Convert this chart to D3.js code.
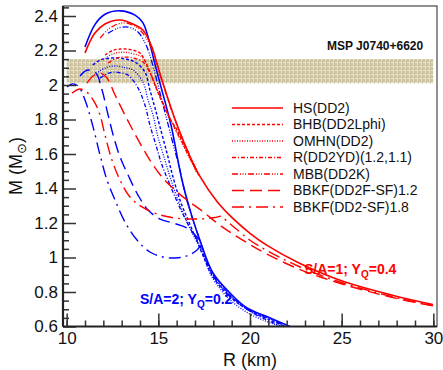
<!DOCTYPE html>
<html>
<head>
<meta charset="utf-8">
<script src="https://cdn.jsdelivr.net/npm/d3@7"></script>
<style>
  body { margin: 0; background: #fff; }
  svg { display: block; font-family: "Liberation Sans", Arial, sans-serif; }
</style>
</head>
<body>
<div id="chart"></div>
<script>
// labels and ticks
var eosLabels = ['HS(DD2)', 'BHB(DD2Lphi)', 'OMHN(DD2)', 'R(DD2YD)(1.2,1.1)', 'MBB(DD2K)', 'BBKF(DD2F-SF)1.2', 'BBKF(DD2-SF)1.8'];
var xMajor = [10, 15, 20, 25, 30];
var xMinor = [10, 11, 12, 13, 14, 15, 16, 17, 18, 19, 20, 21, 22, 23, 24, 25, 26, 27, 28, 29, 30];
var yMajor = [0.6, 0.8, 1, 1.2, 1.4, 1.6, 1.8, 2, 2.2, 2.4];
var yMajorLabels = ['0.6', '0.8', '1', '1.2', '1.4', '1.6', '1.8', '2', '2.2', '2.4'];
var yMinor = [0.65, 0.7, 0.75, 0.85, 0.9, 0.95, 1.05, 1.1, 1.15, 1.25, 1.3, 1.35, 1.45, 1.5, 1.55,
  1.65, 1.7, 1.75, 1.85, 1.9, 1.95, 2.05, 2.1, 2.15, 2.25, 2.3, 2.35, 2.45];

// MSP J0740+6620 mass band
var mspMass = [2.01, 2.15];
var mspRadius = [10, 30];

// S/A=1, Y_Q=0.4 (red)  [R km, M Msun]
var hsRed = [[11.0,2.186],[11.54,2.301],[12.09,2.354],[12.91,2.377],[13.73,2.348],[14.16,2.319],[14.65,2.22],[14.87,2.145],[15.25,2.011],[16.02,1.768],[16.56,1.625],[17.27,1.47],[18.2,1.325],[19.08,1.225],[20.0,1.14],[20.93,1.07],[22.73,0.965],[25.07,0.862],[28.18,0.77],[29.98,0.728]];
var bhbRed = [[12.09,2.174],[12.5,2.2],[12.96,2.209],[13.5,2.205],[14.0,2.185],[14.44,2.1],[14.85,1.99],[15.25,1.89],[15.65,1.8],[16.02,1.74],[16.56,1.615],[17.27,1.465]];
var omhnRed = [[11.98,2.145],[12.5,2.18],[13.07,2.19],[13.6,2.182],[14.11,2.162],[14.55,2.075],[14.98,1.96],[15.42,1.855],[15.85,1.76],[16.4,1.64],[17.1,1.49]];
var rdd2ydRed = [[12.26,2.127],[12.7,2.155],[13.19,2.162],[13.7,2.155],[14.17,2.133],[14.6,2.058],[15.04,1.948],[15.47,1.843],[15.9,1.75],[16.45,1.635],[17.15,1.485]];
var mbbRed = [[11.82,2.272],[12.36,2.33],[13.02,2.36],[13.73,2.342],[14.27,2.284],[14.71,2.191],[14.98,2.098],[15.3,1.99],[15.8,1.83],[16.4,1.67],[17.1,1.5]];
var bbkf12Red = [[11.11,2.011],[11.44,2.052],[11.82,2.07],[12.2,2.041],[12.64,1.942],[13.18,1.826],[13.84,1.693],[14.54,1.565],[15.25,1.46],[15.91,1.391],[16.56,1.333],[17.38,1.27],[18.2,1.2],[19.08,1.135],[20.0,1.075],[20.93,1.02],[22.73,0.93],[25.07,0.845],[28.18,0.758],[29.98,0.72]];
var bbkf18Red = [[10.29,1.953],[10.73,1.977],[11.16,1.953],[11.54,1.896],[11.82,1.826],[12.09,1.71],[12.47,1.565],[12.91,1.449],[13.45,1.351],[14.11,1.293],[14.93,1.252],[15.91,1.229],[16.73,1.223],[17.55,1.225],[18.09,1.232],[18.47,1.238],[18.7,1.215],[19.2,1.17],[20.0,1.1],[20.93,1.04],[22.73,0.945],[25.07,0.852],[28.18,0.762],[29.98,0.722]];

// S/A=2, Y_Q=0.2 (blue)
var hsBlue = [[11.0,2.22],[11.54,2.35],[12.09,2.41],[12.91,2.43],[13.73,2.405],[14.16,2.36],[14.49,2.26],[14.76,2.145],[15.09,2.011],[15.69,1.768],[16.29,1.449],[16.8,1.25],[17.3,1.09],[17.98,0.91],[18.91,0.794],[19.84,0.707],[20.98,0.655],[22.18,0.6]];
var bhbBlue = [[11.43,2.116],[11.82,2.145],[12.4,2.156],[12.91,2.156],[13.34,2.148],[13.73,2.133],[14.27,2.075],[14.54,1.971],[14.82,1.867],[15.09,1.757],[15.47,1.606],[15.8,1.467],[16.18,1.333],[16.62,1.217],[17.05,1.11],[17.4,1.02],[17.95,0.893],[18.85,0.777],[20.0,0.69],[21.09,0.638],[21.9,0.6]];
var omhnBlue = [[11.71,2.075],[12.2,2.103],[12.74,2.11],[13.2,2.1],[13.62,2.087],[14.16,2.017],[14.44,1.913],[14.71,1.826],[14.98,1.699],[15.36,1.565],[15.64,1.467],[16.07,1.333],[16.56,1.206],[17.05,1.101],[17.4,1.03],[17.93,0.887],[18.81,0.765],[19.9,0.678],[20.98,0.626],[21.64,0.6]];
var rdd2ydBlue = [[11.82,2.04],[12.2,2.065],[12.53,2.075],[12.95,2.07],[13.34,2.058],[13.89,1.983],[14.27,1.884],[14.54,1.768],[14.87,1.652],[15.2,1.536],[15.64,1.42],[16.18,1.287],[16.73,1.171],[17.2,1.085],[17.6,0.98],[18.2,0.86],[19.2,0.75],[20.3,0.67],[21.4,0.615],[21.7,0.6]];
var mbbBlue = [[12.25,2.30],[12.8,2.33],[13.34,2.336],[13.89,2.307],[14.33,2.232],[14.65,2.133],[14.98,2.0],[15.36,1.843],[15.75,1.681],[16.18,1.507],[16.55,1.333],[17.3,1.09],[17.98,0.9],[18.91,0.785],[19.84,0.7],[20.98,0.648],[22.0,0.6]];
var bbkf12Blue = [[10.73,2.052],[11.0,2.081],[11.27,2.087],[11.6,2.07],[11.93,1.971],[12.26,1.826],[12.58,1.693],[12.91,1.583],[13.35,1.478],[13.89,1.362],[14.44,1.275],[15.09,1.223],[15.8,1.2],[16.56,1.171],[17.27,1.1]];
var bbkf18Blue = [[10.02,1.988],[10.29,2.006],[10.62,1.994],[11.0,1.913],[11.44,1.757],[11.82,1.594],[12.2,1.449],[12.64,1.333],[13.18,1.206],[13.84,1.101],[14.54,1.032],[15.25,1.003],[15.91,0.997],[16.56,1.009],[17.11,1.043],[17.38,1.084]];

var redSeries = [hsRed, bhbRed, omhnRed, rdd2ydRed, mbbRed, bbkf12Red, bbkf18Red];
var blueSeries = [hsBlue, bhbBlue, omhnBlue, rdd2ydBlue, mbbBlue, bbkf12Blue, bbkf18Blue];

// line styles per EOS
var dashes = [null, '3,2', '1,1.5', '4,2,1,2', '6,2,1,1.5,1,1.5,1,2', '12,6', '12,5,2,5'];
var widths = [1.6, 1.4, 1.3, 1.3, 1.3, 1.4, 1.4];

var W = 443, H = 370;
var margin = { top: 6, right: 6, bottom: 43.5, left: 63 };
var width = W - margin.left - margin.right,
  height = H - margin.top - margin.bottom;

var svg = d3.select('#chart').append('svg').attr('width', W).attr('height', H);

var x = d3.scaleLinear().domain([9.8, 30.2]).range([0, width]);
var y = d3.scaleLinear().domain([0.6, 2.458]).range([height, 0]);

var defs = svg.append('defs');
var pat = defs.append('pattern').attr('id', 'band').attr('width', 4).attr('height', 4)
  .attr('patternUnits', 'userSpaceOnUse');
pat.append('rect').attr('width', 4).attr('height', 4).attr('fill', '#cdc3a1');
pat.append('rect').attr('x', 0).attr('y', 0).attr('width', 3).attr('height', 1).attr('fill', '#ece6d4');
pat.append('rect').attr('x', 2).attr('y', 1).attr('width', 1).attr('height', 2).attr('fill', '#ece6d4');

defs.append('clipPath').attr('id', 'clip').append('rect').attr('width', width).attr('height', height);

var g = svg.append('g').attr('transform', 'translate(' + margin.left + ',' + margin.top + ')');

// band
g.append('rect')
  .attr('x', x(mspRadius[0])).attr('width', x(mspRadius[1]) - x(mspRadius[0]))
  .attr('y', y(mspMass[1])).attr('height', y(mspMass[0]) - y(mspMass[1]))
  .attr('fill', 'url(#band)');

g.append('text').attr('x', 264).attr('y', 44)
  .style('font-size', '12px').style('font-weight', 'bold').attr('fill', '#111')
  .text('MSP J0740+6620');

// curves
var line = d3.line()
  .curve(d3.curveCatmullRom.alpha(0.5))
  .x(function (d) { return x(d[0]); })
  .y(function (d) { return y(d[1]); });

var curves = g.append('g').attr('clip-path', 'url(#clip)');

function drawSet(series, color) {
  series.forEach(function (pts, i) {
    curves.append('path')
      .attr('d', line(pts))
      .attr('fill', 'none')
      .attr('stroke', color)
      .attr('stroke-width', widths[i])
      .attr('stroke-dasharray', dashes[i]);
  });
}
drawSet(blueSeries, '#0000ff');
drawSet(redSeries, '#ff0000');

// axes (ticks inside)
var yAxis = d3.axisLeft(y).tickValues(yMajor).tickSize(-13).tickPadding(5)
  .tickFormat(function (d, i) { return yMajorLabels[i]; });
var yAxisMinor = d3.axisLeft(y).tickValues(yMinor).tickSize(-6).tickFormat('');
var xAxis = d3.axisBottom(x).tickValues(xMajor).tickSize(-13).tickPadding(5);
var xAxisMinor = d3.axisBottom(x).tickValues(xMinor).tickSize(-6).tickFormat('');

function styleAxis(sel) {
  sel.select('.domain').remove();
  sel.selectAll('line').attr('stroke', '#333').attr('stroke-width', 1.5);
  sel.selectAll('text').attr('fill', '#111').style('font-size', '17px')
    .style('font-family', '"Liberation Sans", Arial, sans-serif');
}

g.append('g').call(yAxisMinor).call(styleAxis);
g.append('g').call(yAxis).call(styleAxis);
g.append('g').attr('transform', 'translate(0,' + height + ')').call(xAxisMinor).call(styleAxis);
g.append('g').attr('transform', 'translate(0,' + height + ')').call(xAxis).call(styleAxis);

// frame
g.append('rect').attr('width', width).attr('height', height)
  .attr('fill', 'none').attr('stroke', '#222').attr('stroke-width', 1);
g.append('line').attr('x1', 0).attr('x2', 0).attr('y1', 0).attr('y2', height)
  .attr('stroke', '#222').attr('stroke-width', 2.2);
g.append('line').attr('x1', 0).attr('x2', width).attr('y1', height).attr('y2', height)
  .attr('stroke', '#222').attr('stroke-width', 2.2);

// legend
var legend = svg.append('g').attr('transform', 'translate(232,108)');
eosLabels.forEach(function (lab, i) {
  var row = legend.append('g').attr('transform', 'translate(0,' + (i * 16.5) + ')');
  row.append('line').attr('x1', 0).attr('x2', 51).attr('y1', 0).attr('y2', 0)
    .attr('stroke', '#ff0000').attr('stroke-width', widths[i])
    .attr('stroke-dasharray', dashes[i]);
  row.append('text').attr('x', 61).attr('dy', '0.35em')
    .style('font-size', '14px').attr('fill', '#111').text(lab);
});

// composition labels
function compLabel(xp, yp, color, sa, yq) {
  var t = svg.append('text').attr('x', xp).attr('y', yp).attr('fill', color)
    .style('font-size', '14px').style('font-weight', 'bold');
  t.append('tspan').text('S/A=' + sa + '; Y');
  t.append('tspan').attr('dy', 4).style('font-size', '10px').text('Q');
  t.append('tspan').attr('dy', -4).text('=' + yq);
}
compLabel(304, 274, '#ff0000', 1, 0.4);
compLabel(140, 304, '#0000ff', 2, 0.2);

// axis titles
svg.append('text').attr('x', 250).attr('y', 366).attr('text-anchor', 'middle')
  .style('font-size', '18px').attr('fill', '#111').text('R (km)');

var yt = svg.append('text').attr('transform', 'translate(22,166) rotate(-90)')
  .attr('text-anchor', 'middle').style('font-size', '18px').attr('fill', '#111');
yt.append('tspan').text('M (M');
yt.append('tspan').attr('dy', 4).style('font-size', '13px').style('font-family', '"DejaVu Sans"').text('\u2299');
yt.append('tspan').attr('dy', -4).text(')');
</script>
</body>
</html>
